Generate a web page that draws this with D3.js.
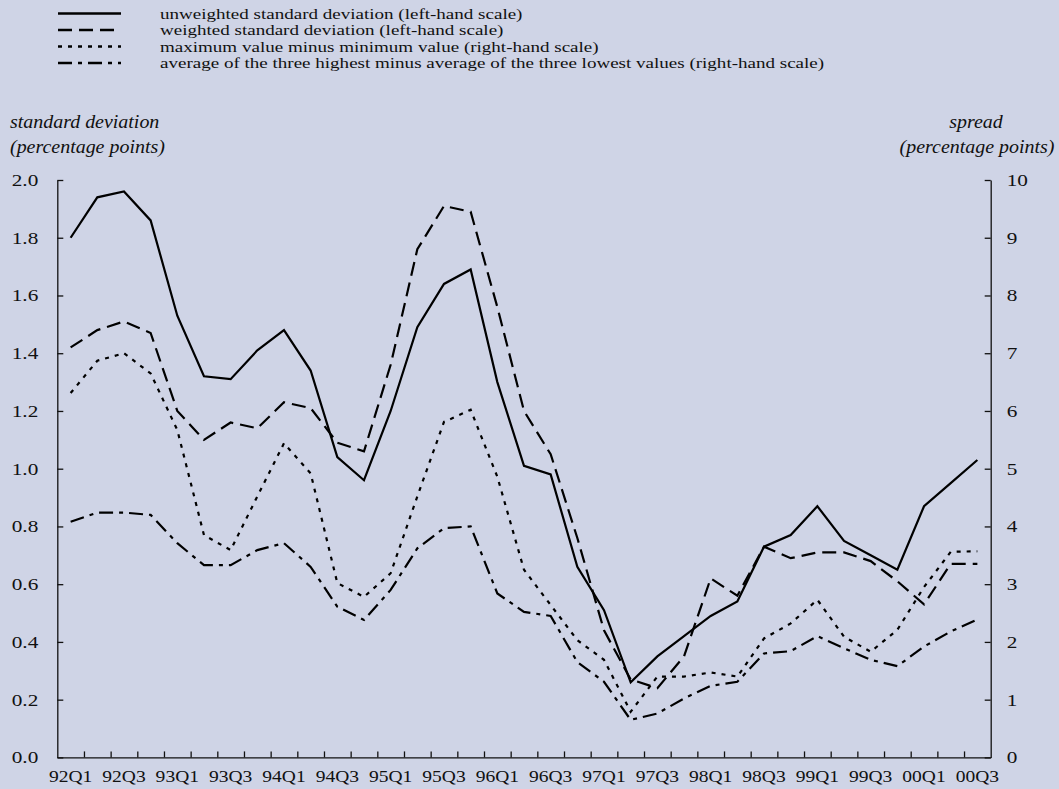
<!DOCTYPE html>
<html>
<head>
<meta charset="utf-8">
<script src="https://cdn.jsdelivr.net/npm/d3@7"></script>
<style>
  html, body { margin: 0; padding: 0; background: #cfd4e6; }
  svg { display: block; font-family: "Liberation Serif", "Times New Roman", serif; }
</style>
</head>
<body>
<svg id="chart" width="1059" height="789"></svg>
<script>
// quarters on the x axis
const quarters = ["92Q1","92Q2","92Q3","92Q4","93Q1","93Q2","93Q3","93Q4",
                  "94Q1","94Q2","94Q3","94Q4","95Q1","95Q2","95Q3","95Q4",
                  "96Q1","96Q2","96Q3","96Q4","97Q1","97Q2","97Q3","97Q4",
                  "98Q1","98Q2","98Q3","98Q4","99Q1","99Q2","99Q3","99Q4",
                  "00Q1","00Q2","00Q3"];

// left-hand scale (standard deviation, percentage points)
const unweighted = [1.80,1.94,1.96,1.86,1.53,1.32,1.31,1.41,1.48,1.34,1.04,0.96,1.20,1.49,1.64,1.69,
                    1.30,1.01,0.98,0.66,0.51,0.26,0.35,0.42,0.49,0.54,0.73,0.77,0.87,0.75,0.70,0.65,
                    0.87,0.95,1.03];
const weighted   = [1.42,1.48,1.51,1.47,1.20,1.10,1.16,1.14,1.23,1.21,1.09,1.06,1.36,1.76,1.91,1.89,
                    1.56,1.20,1.05,0.76,0.44,0.27,0.24,0.35,0.62,0.56,0.73,0.69,0.71,0.71,0.68,0.61,
                    0.53,0.67,0.67];

// right-hand scale (spread, percentage points)
const maxMinusMin = [6.31,6.87,7.00,6.65,5.67,3.85,3.59,4.52,5.44,4.92,3.02,2.78,3.19,4.52,5.81,6.02,
                     4.86,3.25,2.64,2.03,1.69,0.79,1.40,1.40,1.47,1.40,2.06,2.32,2.73,2.09,1.83,2.21,
                     2.95,3.56,3.57];
const top3MinusBottom3 = [4.08,4.24,4.24,4.20,3.71,3.33,3.33,3.59,3.71,3.30,2.61,2.38,2.90,3.62,3.97,4.00,
                          2.84,2.52,2.45,1.65,1.31,0.65,0.76,1.02,1.24,1.31,1.80,1.84,2.10,1.89,1.69,1.58,
                          1.92,2.18,2.39];

const leftTicks  = [0,0.2,0.4,0.6,0.8,1.0,1.2,1.4,1.6,1.8,2.0];
const rightTicks = [0,1,2,3,4,5,6,7,8,9,10];
const xLabels = ["92Q1","92Q3","93Q1","93Q3","94Q1","94Q3","95Q1","95Q3","96Q1",
                 "96Q3","97Q1","97Q3","98Q1","98Q3","99Q1","99Q3","00Q1","00Q3"];

const legendLabels = [
  "unweighted standard deviation (left-hand scale)",
  "weighted standard deviation (left-hand scale)",
  "maximum value minus minimum value (right-hand scale)",
  "average of the three highest minus average of the three lowest values (right-hand scale)"
];

const svg = d3.select("#chart");
const width = +svg.attr("width");
const height = +svg.attr("height");
const margin = {top: 180, right: 68.3, bottom: 31.6, left: 57.3};
const STRETCH = 1.25;   // the printed text is wider than plain Times

svg.append("rect").attr("width", width).attr("height", height).attr("fill", "#cfd4e6");

const x = d3.scaleBand().domain(quarters).range([margin.left, width - margin.right]);
const xEdge = d3.scaleLinear().domain([0, quarters.length]).range(x.range());
const yL = d3.scaleLinear().domain([0, 2]).range([height - margin.bottom, margin.top]);
const yR = d3.scaleLinear().domain([0, 10]).range([height - margin.bottom, margin.top]);
const cx = q => x(q) + x.bandwidth() / 2;

// axes
const axisStyle = g => {
  g.selectAll("path, line").attr("stroke", "#111").attr("stroke-width", 1.3);
  g.selectAll("text").attr("fill", "#111").attr("font-size", 17)
    .attr("font-family", "Liberation Serif, Times New Roman, serif");
};

svg.append("g")
   .attr("transform", `translate(0,${yL(0)})`)
   .call(d3.axisBottom(xEdge).tickValues(d3.range(1, quarters.length))
          .tickSize(-6).tickSizeOuter(0).tickFormat(""))
   .call(axisStyle);

svg.append("g")
   .attr("transform", `translate(0,${yL(0)})`)
   .call(d3.axisBottom(x).tickValues(xLabels).tickSize(0).tickPadding(13))
   .call(g => g.select(".domain").remove())
   .call(axisStyle)
   .call(g => g.selectAll("text").attr("transform", `scale(1.15,1)`));

svg.append("g")
   .attr("transform", `translate(${margin.left},0)`)
   .call(d3.axisLeft(yL).tickValues(leftTicks).tickSize(-6).tickSizeOuter(0)
          .tickFormat(d3.format(".1f")).tickPadding(19 / STRETCH))
   .call(axisStyle)
   .call(g => g.selectAll("text").attr("transform", `scale(${STRETCH},1)`));

svg.append("g")
   .attr("transform", `translate(${width - margin.right},0)`)
   .call(d3.axisRight(yR).tickValues(rightTicks).tickSize(-6).tickSizeOuter(0)
          .tickPadding(16 / STRETCH))
   .call(axisStyle)
   .call(g => g.selectAll("text").attr("transform", `scale(${STRETCH},1)`));

// axis titles
const title = (txt, tx, ty, anchor) =>
  svg.append("text")
     .attr("transform", `translate(${tx},${ty}) scale(1.05,1)`)
     .attr("text-anchor", anchor)
     .attr("font-style", "italic")
     .attr("font-size", 19)
     .attr("fill", "#111")
     .text(txt);

title("standard deviation", 10, 128, "start");
title("(percentage points)", 10, 153, "start");
title("spread", 976, 128, "middle");
title("(percentage points)", 977, 153, "middle");

// lines
const series = [
  {values: unweighted,       y: yL, dash: null},
  {values: weighted,         y: yL, dash: "14,7"},
  {values: maxMinusMin,      y: yR, dash: "4,6"},
  {values: top3MinusBottom3, y: yR, dash: "14,6,4,6"}
];

series.forEach(s => {
  const line = d3.line()
    .x((d, i) => cx(quarters[i]))
    .y(d => s.y(d));
  svg.append("path")
     .datum(s.values)
     .attr("d", line)
     .attr("fill", "none")
     .attr("stroke", "#000")
     .attr("stroke-width", 2.2)
     .attr("stroke-dasharray", s.dash);
});

// legend
const legendY = [13.5, 30, 46.5, 63];
const legend = svg.append("g");
series.forEach((s, i) => {
  legend.append("line")
    .attr("x1", 58).attr("x2", 121)
    .attr("y1", legendY[i]).attr("y2", legendY[i])
    .attr("stroke", "#000").attr("stroke-width", 2.5)
    .attr("stroke-dasharray", s.dash);
  legend.append("text")
    .attr("transform", `translate(160,${legendY[i] + 5}) scale(1.27,1)`)
    .attr("font-size", 15)
    .attr("fill", "#111")
    .text(legendLabels[i]);
});
</script>
</body>
</html>
